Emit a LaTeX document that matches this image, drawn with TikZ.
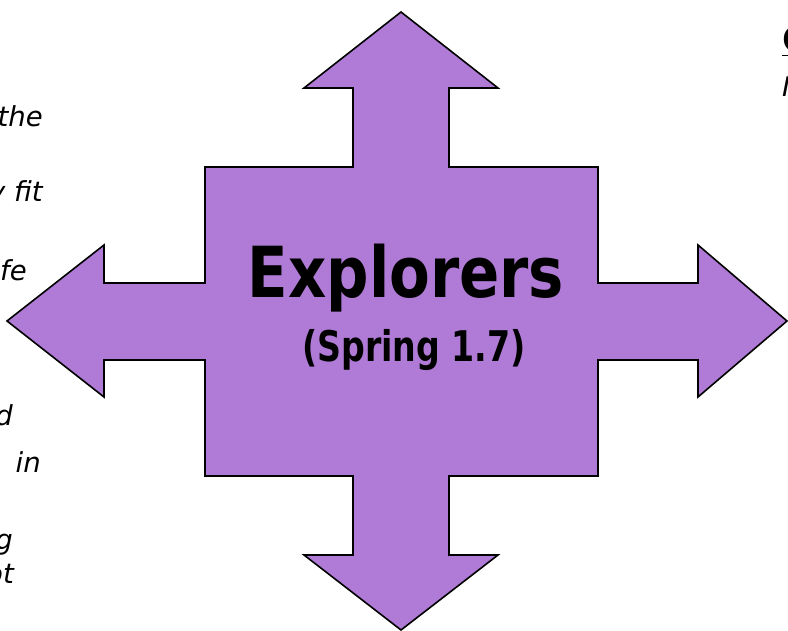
\documentclass[tikz,border=0pt]{standalone}
\usepackage{fontspec}
\usepackage{graphicx}
\setmainfont{DejaVu Sans}
\definecolor{arrowpurple}{RGB}{176,123,214}
\tikzset{
  bigarrow/.style={fill=arrowpurple, draw=black, line width=1.6pt, line join=miter},
  sidetext/.style={font=\fontsize{27.5}{30}\selectfont\itshape, inner sep=0pt, anchor=base east},
  titletext/.style={inner sep=0pt, anchor=base}
}
\begin{document}
\begin{tikzpicture}[x=1pt,y=-1pt]
\useasboundingbox (0,0) rectangle (788,631);
\begin{scope}
\clip (0,0) rectangle (788,631);
% four-way arrow
\draw[bigarrow] (401,12) -- (498,88) -- (449,88) -- (449,167) -- (598,167) -- (598,283)
  -- (698,283) -- (698,245) -- (787,321) -- (698,397) -- (698,360) -- (598,360)
  -- (598,476) -- (449,476) -- (449,555) -- (498,555) -- (401,630) -- (304,555)
  -- (353,555) -- (353,476) -- (205,476) -- (205,360) -- (104,360) -- (104,397)
  -- (7,321) -- (104,245) -- (104,283) -- (205,283) -- (205,167) -- (353,167)
  -- (353,88) -- (304,88) -- cycle;
\node[titletext] (title) at (406,298) {\scalebox{0.86}[1.02]{\fontsize{69}{80}\selectfont\bfseries Explorers}};
\node[titletext] (sub) at (414,362) {\scalebox{0.81}[1.03]{\fontsize{41}{48}\selectfont\bfseries (Spring 1.7)}};
% cut-off text on the left
\node[sidetext] (l1) at (43,127) {the};
\node[sidetext] (l2) at (43,202) {y fit};
\node[sidetext] (l3) at (27,281) {ife};
\node[sidetext] (l4) at (13,425) {d};
\node[sidetext] (l5) at (41,472) {in};
\node[sidetext] (l6) at (13,549) {g};
\node[sidetext] (l7) at (14,583) {ot};
% cut-off text on the right
\node[inner sep=0pt, anchor=base west] (r1) at (782,53) {\fontsize{36}{40}\selectfont\bfseries\underline{G}};
\node[inner sep=0pt, anchor=base west] (r2) at (782,97) {\fontsize{27}{30}\selectfont\itshape I};
\end{scope}
\end{tikzpicture}
\end{document}
